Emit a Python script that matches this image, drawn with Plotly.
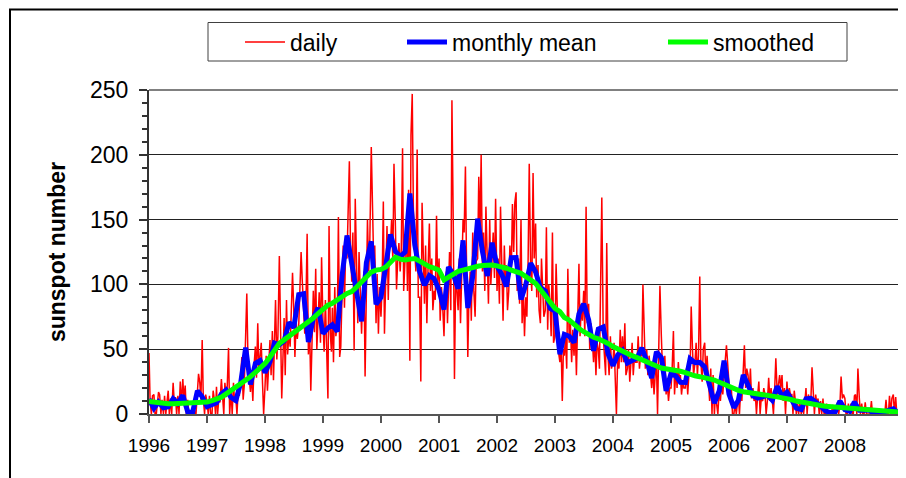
import plotly.graph_objects as go
import pandas as pd

# ---------------- data ----------------
years = list(range(1996, 2009))
year_ticks = [f"{y}-01-01" for y in years]
year_labels = [str(y) for y in years]

# monthly mean sunspot number, Jan 1996 .. Dec 2008
monthly_mean = [
    11.5, 4.4, 9.2, 4.8, 5.5, 11.8, 8.2, 14.4, 1.6, 0.9, 17.9, 13.3,
    5.7, 7.6, 8.7, 15.5, 18.5, 12.7, 10.4, 24.4, 51.3, 22.8, 39.0, 41.2,
    31.9, 40.3, 54.8, 53.4, 56.3, 70.7, 66.6, 92.2, 92.9, 55.5, 74.0, 81.9,
    62.0, 66.3, 68.8, 63.7, 106.4, 137.7, 113.5, 93.7, 71.5, 116.7, 133.2, 84.6,
    90.1, 112.9, 138.5, 125.5, 121.6, 124.9, 170.1, 130.5, 109.7, 99.4, 106.8, 104.4,
    95.6, 80.6, 113.5, 107.7, 96.6, 134.0, 81.8, 106.4, 150.7, 125.5, 106.5, 132.2,
    114.1, 107.4, 98.4, 120.7, 120.8, 88.3, 99.6, 116.4, 109.6, 97.5, 95.0, 81.6,
    79.5, 46.2, 61.5, 60.0, 55.2, 77.4, 85.0, 72.7, 48.8, 65.6, 67.2, 46.5,
    37.3, 45.8, 49.1, 39.3, 41.5, 43.2, 51.1, 40.9, 27.7, 48.0, 43.5, 17.9,
    31.3, 29.2, 24.5, 24.4, 42.6, 39.6, 39.9, 36.4, 22.1, 8.5, 18.0, 41.2,
    15.3, 4.9, 10.6, 30.2, 22.3, 13.9, 12.2, 12.9, 14.4, 10.5, 21.4, 13.6,
    16.8, 10.7, 4.5, 3.4, 11.7, 12.1, 9.7, 6.2, 2.4, 0.9, 1.7, 10.1,
    3.4, 2.1, 9.3, 2.9, 2.9, 3.1, 0.5, 0.5, 1.1, 2.9, 4.1, 0.8,
]

# 13-month smoothed sunspot number, Jan 1996 .. Dec 2008
smoothed = [
    9.6, 9.0, 8.6, 8.2, 8.0, 7.9, 8.0, 8.1, 8.3, 8.4, 8.5, 8.6,
    9.2, 10.3, 11.5, 13.0, 15.5, 18.0, 20.6, 23.2, 26.0, 28.8, 32.2, 35.6,
    39.0, 44.0, 49.5, 54.5, 57.2, 60.0, 62.5, 65.5, 68.8, 71.2, 74.0, 77.5,
    81.0, 84.0, 85.5, 87.5, 90.5, 93.0, 94.5, 98.0, 102.0, 106.0, 109.5, 111.0,
    111.6, 113.5, 117.0, 121.0, 119.5, 118.8, 119.5, 120.0, 118.0, 115.5, 113.7, 112.5,
    111.0, 103.5, 105.5, 108.0, 110.0, 111.0, 112.0, 113.7, 114.0, 114.5, 115.2, 115.0,
    114.3, 113.7, 112.5, 111.0, 109.8, 108.5, 106.0, 103.5, 100.8, 96.0, 91.0, 86.0,
    81.5, 79.0, 74.5, 72.5, 69.0, 66.0, 63.5, 61.0, 59.2, 58.0, 56.5, 54.5,
    52.0, 50.0, 48.0, 46.8, 45.0, 43.5, 41.7, 40.0, 38.5, 37.0, 35.5, 35.0,
    34.5, 34.0, 33.0, 32.0, 30.5, 29.5, 28.8, 28.0, 27.2, 26.2, 24.5, 22.8,
    21.0, 19.5, 18.2, 17.2, 16.5, 15.8, 15.2, 14.7, 14.3, 13.8, 13.2, 12.7,
    12.0, 11.0, 10.0, 9.5, 8.7, 8.0, 7.3, 6.6, 6.0, 5.7, 5.3, 4.8,
    4.2, 3.8, 3.5, 3.3, 3.0, 2.8, 2.6, 2.3, 2.0, 1.7, 1.5, 1.5,
]

# daily sunspot number, sampled on days 1, 8, 16, 23 of every month
daily_days = [1, 8, 16, 23]
daily_1996 = [47, 10, 0, 14, 15, 0, 0, 8, 17, 15, 0, 11, 0, 14, 0, 9, 18, 0, 12, 0, 24, 9, 13, 0,
              14, 0, 25, 7, 27, 11, 22, 0, 11, 0, 0, 0, 0, 10, 0, 0, 16, 31, 24, 11, 57, 12, 0, 15]
daily_1997 = [9, 0, 14, 0, 0, 18, 11, 0, 21, 0, 12, 9, 27, 12, 0, 24, 13, 22, 51, 0, 18, 0, 24, 9,
              12, 0, 19, 14, 28, 44, 11, 22, 62, 93, 38, 24, 17, 31, 10, 36, 52, 28, 70, 34, 48, 55, 24, 0]
daily_1998 = [22, 45, 18, 38, 57, 30, 64, 26, 48, 88, 42, 60, 122, 55, 12, 40, 74, 30, 88, 46, 63, 52, 76, 109,
              80, 44, 72, 58, 68, 96, 125, 104, 84, 62, 88, 139, 46, 72, 18, 58, 95, 63, 112, 50, 68, 94, 55, 121]
daily_1999 = [70, 48, 88, 55, 12, 145, 62, 48, 82, 40, 98, 60, 70, 152, 44, 52, 95, 130, 82, 125, 120, 148, 195, 130,
              102, 140, 49, 166, 118, 70, 125, 88, 62, 95, 110, 29, 90, 150, 110, 135, 206, 171, 118, 130, 70, 108, 62, 98]
daily_2000 = [75, 98, 164, 62, 120, 145, 88, 130, 130, 150, 118, 193, 145, 96, 120, 132, 110, 128, 205, 95, 120, 150, 95, 173,
              41, 215, 247, 160, 125, 110, 204, 90, 90, 25, 163, 118, 85, 130, 70, 110, 147, 95, 120, 80, 95, 88, 153, 100]
daily_2001 = [120, 72, 98, 85, 60, 95, 110, 70, 98, 125, 80, 242, 140, 27, 110, 95, 80, 120, 70, 105, 150, 140, 191, 115,
              44, 90, 110, 72, 140, 95, 75, 118, 120, 183, 140, 200, 110, 140, 95, 160, 120, 85, 150, 100, 120, 140, 105, 166]
daily_2002 = [95, 120, 85, 160, 110, 72, 130, 100, 115, 80, 95, 130, 110, 162, 125, 163, 171, 95, 120, 85, 150, 70, 95, 60,
              90, 75, 120, 193, 110, 95, 186, 120, 147, 90, 115, 80, 70, 120, 95, 75, 80, 144, 65, 100, 85, 60, 140, 55]
daily_2003 = [60, 116, 80, 48, 40, 58, 10, 50, 45, 60, 35, 112, 55, 70, 40, 65, 45, 70, 30, 60, 116, 60, 85, 72,
              95, 60, 160, 70, 85, 50, 70, 60, 40, 60, 30, 55, 50, 35, 90, 167, 60, 40, 30, 132, 45, 30, 60, 35]
daily_2004 = [40, 55, 30, 0, 50, 35, 65, 40, 60, 40, 70, 30, 35, 50, 25, 45, 55, 30, 45, 40, 40, 60, 35, 45,
              45, 100, 60, 35, 50, 30, 45, 35, 20, 35, 15, 30, 40, 0, 55, 99, 60, 35, 25, 45, 15, 25, 10, 20]
daily_2005 = [20, 35, 64, 15, 35, 20, 40, 25, 30, 15, 25, 20, 20, 35, 15, 30, 35, 83, 50, 30, 40, 55, 30, 45,
              106, 40, 25, 50, 55, 30, 45, 25, 10, 35, 0, 30, 0, 15, 5, 0, 20, 10, 25, 15, 30, 45, 53, 40]
daily_2006 = [25, 10, 20, 0, 0, 8, 0, 11, 15, 0, 20, 10, 30, 53, 20, 35, 30, 15, 35, 12, 20, 10, 15, 0,
              15, 25, 0, 12, 10, 20, 15, 0, 12, 28, 10, 20, 10, 0, 20, 43, 15, 25, 30, 20, 30, 10, 20, 0]
daily_2007 = [25, 12, 20, 15, 15, 0, 18, 10, 0, 8, 0, 10, 0, 11, 0, 8, 20, 0, 15, 12, 12, 36, 10, 0,
              15, 8, 12, 0, 10, 0, 12, 0, 0, 8, 0, 0, 0, 0, 7, 0, 0, 0, 9, 0, 8, 29, 12, 15]
daily_2008 = [12, 0, 0, 8, 0, 8, 0, 0, 14, 15, 0, 35, 12, 0, 8, 0, 0, 9, 0, 0, 0, 0, 10, 0,
              0, 0, 0, 0, 0, 0, 0, 0, 0, 0, 11, 0, 0, 14, 0, 12, 15, 0, 13, 0, 0, 0, 8, 0]

daily = (daily_1996 + daily_1997 + daily_1998 + daily_1999 + daily_2000 + daily_2001 + daily_2002
         + daily_2003 + daily_2004 + daily_2005 + daily_2006 + daily_2007 + daily_2008)

month_starts = pd.date_range("1996-01-01", periods=len(monthly_mean), freq="MS")
daily_dates = [m.replace(day=d) for m in month_starts for d in daily_days]

# ---------------- figure ----------------
FONT = "Liberation Sans, Arial, sans-serif"
# the page puts the figure 8 px in from the top-left corner of the window
OFF = 8
W, H = 906 - OFF, 478 - OFF
PL, PT, PR, PB = 149, 90, 903, 414          # plot area in window pixels
L, T = PL - OFF, PT - OFF
pw, ph = PR - PL, PB - PT
R, B = W - L - pw, H - T - ph


def px(x):
    return (x - PL) / pw


def py(y):
    return (PB - y) / ph


fig = go.Figure()
fig.add_trace(go.Scatter(x=daily_dates, y=daily, mode="lines", name="daily",
                         line=dict(color="#ff0000", width=1.5), legend="legend"))
fig.add_trace(go.Scatter(x=month_starts, y=monthly_mean, mode="lines", name="monthly mean",
                         line=dict(color="#0000ff", width=5), legend="legend2"))
fig.add_trace(go.Scatter(x=month_starts, y=smoothed, mode="lines", name="smoothed",
                         line=dict(color="#00ff00", width=5), legend="legend3"))

leg_common = dict(orientation="h", yanchor="middle", y=py(42), xanchor="left",
                  bgcolor="rgba(0,0,0,0)", borderwidth=0, itemwidth=40,
                  font=dict(family=FONT, size=23, color="black"))
fig.update_layout(
    legend=dict(x=px(240), **leg_common),
    legend2=dict(x=px(402), **leg_common),
    legend3=dict(x=px(663), **leg_common),
)

fig.update_layout(
    width=W, height=H,
    margin=dict(l=L, r=R, t=T, b=B, autoexpand=False),
    paper_bgcolor="white", plot_bgcolor="white",
    font=dict(family=FONT, color="black"),
    showlegend=True,
    xaxis=dict(type="date", range=["1996-01-01", "2009-01-01"],
               tickvals=year_ticks, ticktext=year_labels,
               ticks="outside", ticklen=7, tickwidth=2, tickcolor="#555555",
               showline=True, linecolor="#555555", linewidth=2,
               showgrid=False, zeroline=False,
               tickfont=dict(family=FONT, size=19, color="black"),
               ticklabelstandoff=6),
    yaxis=dict(range=[0, 250], tickvals=[0, 50, 100, 150, 200, 250],
               ticks="outside", ticklen=8, tickwidth=1.5, tickcolor="#333333",
               minor=dict(dtick=10, ticks="outside", ticklen=5, tickwidth=1.5, tickcolor="#333333", showgrid=False),
               showline=True, linecolor="#333333", linewidth=2,
               showgrid=True, gridcolor="#222222", gridwidth=1,
               zeroline=False,
               tickfont=dict(family=FONT, size=23, color="black"),
               ticklabelstandoff=6,
               title=dict(text="<b>sunspot number</b>", standoff=18,
                          font=dict(family=FONT, size=23, color="black"))),
    shapes=[
        # plot border (top and right)
        dict(type="line", xref="paper", yref="paper", x0=0, x1=1, y0=1, y1=1,
             line=dict(color="#808080", width=2), layer="above"),
        dict(type="line", xref="paper", yref="paper", x0=1, x1=1, y0=0, y1=1,
             line=dict(color="#808080", width=2), layer="above"),
        # legend box
        dict(type="rect", xref="paper", yref="paper", x0=px(208), x1=px(847), y0=py(61), y1=py(22.5),
             line=dict(color="#404040", width=1), fillcolor="rgba(0,0,0,0)"),
        # outer chart frame
        dict(type="rect", xref="paper", yref="paper", x0=px(10), x1=px(915), y0=py(490), y1=py(9.5),
             line=dict(color="black", width=2), fillcolor="rgba(0,0,0,0)"),
    ],
)

fig.write_html("out.html")
